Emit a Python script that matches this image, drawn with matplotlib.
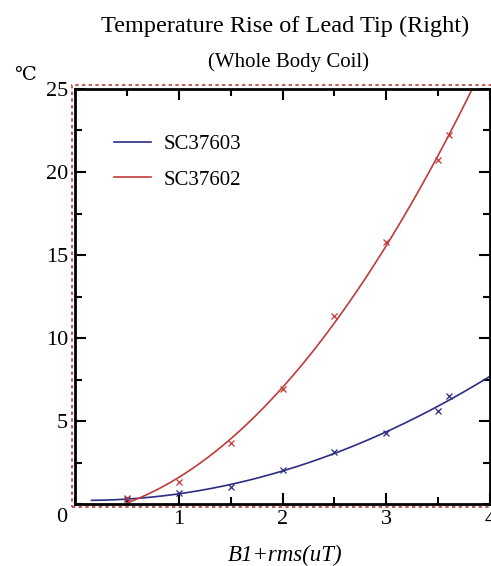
import numpy as np
import matplotlib.pyplot as plt
from matplotlib.patches import Rectangle
from matplotlib.ticker import MultipleLocator

plt.rcParams['font.family'] = ['Liberation Serif', 'DejaVu Serif']

# measured points (B1+rms, temperature rise)
b1_603 = [0.5, 1.0, 1.5, 2.0, 2.5, 3.0, 3.5, 3.6]
dt_603 = [0.3, 0.65, 1.05, 2.05, 3.15, 4.3, 5.6, 6.5]
b1_602 = [0.5, 1.0, 1.5, 2.0, 2.5, 3.0, 3.5, 3.6]
dt_602 = [0.35, 1.3, 3.7, 6.9, 11.3, 15.8, 20.7, 22.2]

blue = '#2c2c86'
red = '#c23a3a'

fig = plt.figure(figsize=(4.91, 5.66), dpi=100)
ax = fig.add_axes([75 / 491, 62 / 566, 415 / 491, 415 / 566])

for x, y, c, lab, x0 in [(b1_603, dt_603, blue, 'SC37603', 0.16),
                         (b1_602, dt_602, red, 'SC37602', 0.5)]:
    p = np.polyfit(x, y, 2)
    xs = np.linspace(x0, 4.0, 200)
    ax.plot(xs, np.polyval(p, xs), color=c, lw=1.2, label=lab)
    ax.plot(x, y, 'x', color=c, ms=4, mew=0.9)

ax.set_xlim(0, 4)
ax.set_ylim(0, 25)
ax.xaxis.set_minor_locator(MultipleLocator(0.5))
ax.yaxis.set_minor_locator(MultipleLocator(2.5))
ax.set_xticks([1, 2, 3, 4])
ax.set_yticks([5, 10, 15, 20, 25])
ax.tick_params(which='both', direction='in', top=True, right=True, width=1.5, labelsize=16)
ax.tick_params(which='major', length=8)
ax.tick_params(which='minor', length=5)
ax.tick_params(axis='y', pad=5)
ax.tick_params(axis='x', pad=4)
for s in ax.spines.values():
    s.set_linewidth(2)

fig.text(62 / 491, 1 - 518 / 566, '0', fontsize=16, ha='center', va='center')

# dotted frame around plot region
fig.patches.append(Rectangle((72 / 491, 59 / 566), 1.05 - 72 / 491, (507 - 85) / 566,
                             transform=fig.transFigure, fill=False, ec='#b04040',
                             lw=1.2, ls=(0, (2, 2)), zorder=0))

ax.legend(loc='upper left', bbox_to_anchor=(0.048, 0.935), frameon=False,
          fontsize=15, handlelength=1.8, handletextpad=0.6, labelspacing=0.75)

fig.text(285 / 491, 1 - 26 / 566, 'Temperature Rise of Lead Tip (Right)', fontsize=17.5,
         ha='center', va='center')
fig.text(288 / 491, 1 - 62 / 566, '(Whole Body Coil)', fontsize=15, ha='center', va='center')
fig.text(25 / 491, 1 - 75 / 566, '℃', fontsize=14, ha='center', va='center')
fig.text(285 / 491, 1 - 555 / 566, 'B1+rms(uT)', fontsize=16.5, style='italic',
         ha='center', va='center')

fig.savefig('out.png', dpi=100)
